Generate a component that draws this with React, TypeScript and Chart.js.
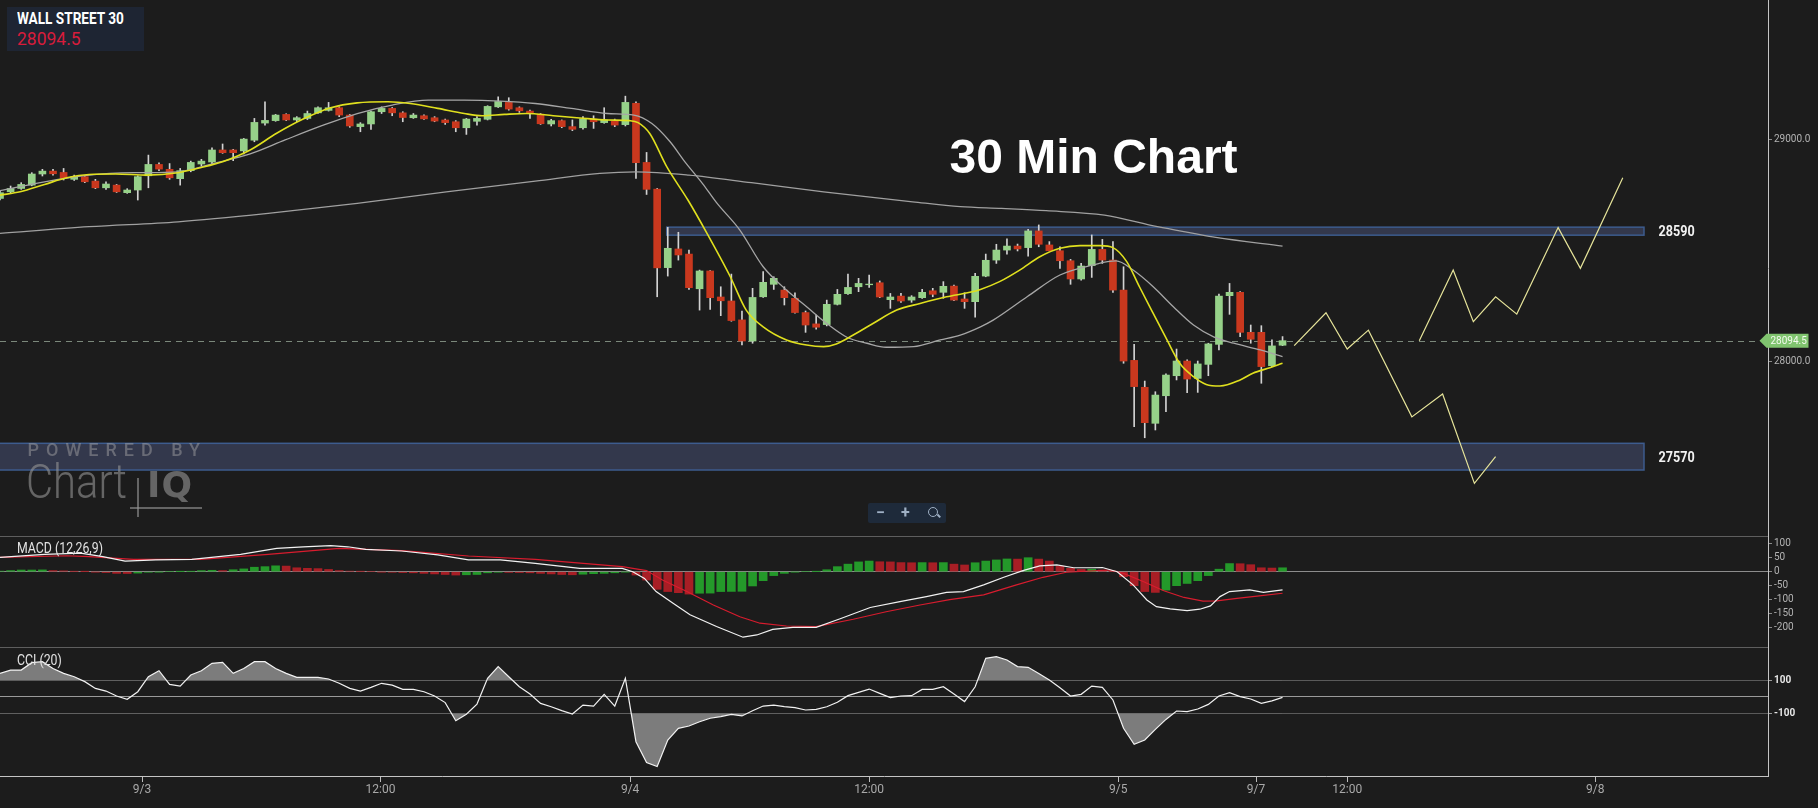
import React, { useEffect, useRef } from 'react';
import { Chart, registerables } from 'chart.js';

Chart.register(...registerables);

// ---------------- DATA ----------------
const opens = [
  28734, 28764, 28779, 28794, 28844, 28857, 28851, 28820, 28832, 28812,
  28782, 28794, 28760, 28772, 28836, 28887, 28865, 28823, 28859, 28889,
  28898, 28952, 28952, 28948, 28996, 29073, 29084, 29112, 29087, 29094,
  29119, 29130, 29142, 29109, 29057, 29069, 29124, 29139, 29119, 29097,
  29106, 29097, 29087, 29079, 29052, 29081, 29090, 29146, 29166, 29142,
  29127, 29113, 29069, 29084, 29057, 29052, 29091, 29075, 29081, 29066,
  29162, 28896, 28776, 28423, 28507, 28484, 28328, 28408, 28291, 28273,
  28188, 28093, 28292, 28348, 28322, 28285, 28221, 28170, 28167, 28258,
  28306, 28337, 28346, 28355, 28279, 28295, 28277, 28288, 28319, 28312,
  28340, 28282, 28270, 28385, 28457, 28502, 28520, 28513, 28588, 28525,
  28499, 28454, 28372, 28432, 28505, 28457, 28322, 28006, 27885, 27723,
  27847, 27937, 28003, 27925, 27988, 28078, 28297, 28312, 28132, 28132,
  27982, 28074,
];
const highs = [
  28769, 28790, 28805, 28850, 28865, 28865, 28869, 28839, 28836, 28820,
  28809, 28797, 28778, 28836, 28929, 28894, 28891, 28869, 28902, 28910,
  28962, 28979, 28955, 29004, 29094, 29169, 29112, 29115, 29102, 29127,
  29146, 29166, 29146, 29112, 29075, 29127, 29146, 29143, 29124, 29116,
  29110, 29102, 29091, 29084, 29094, 29102, 29151, 29191, 29187, 29146,
  29131, 29116, 29090, 29087, 29087, 29102, 29106, 29142, 29091, 29194,
  29169, 28941, 28779, 28604, 28582, 28502, 28412, 28410, 28337, 28394,
  28228, 28330, 28405, 28382, 28337, 28310, 28228, 28210, 28277, 28325,
  28394, 28375, 28390, 28363, 28307, 28307, 28297, 28325, 28330, 28360,
  28345, 28310, 28397, 28484, 28528, 28552, 28529, 28595, 28615, 28540,
  28517, 28460, 28442, 28570, 28550, 28540, 28427, 28078, 27913, 27865,
  27945, 28057, 28008, 28003, 28083, 28304, 28352, 28315, 28165, 28162,
  28098, 28113,
];
const lows = [
  28727, 28757, 28775, 28791, 28835, 28839, 28817, 28815, 28805, 28778,
  28775, 28761, 28757, 28727, 28782, 28859, 28820, 28794, 28854, 28881,
  28891, 28937, 28904, 28934, 28989, 29064, 29081, 29084, 29079, 29089,
  29116, 29127, 29102, 29054, 29034, 29045, 29116, 29106, 29079, 29094,
  29089, 29079, 29067, 29034, 29022, 29064, 29087, 29143, 29131, 29121,
  29094, 29067, 29060, 29052, 29039, 29046, 29049, 29072, 29057, 29060,
  28824, 28752, 28292, 28385, 28457, 28325, 28232, 28235, 28207, 28182,
  28075, 28083, 28289, 28325, 28255, 28218, 28132, 28146, 28161, 28255,
  28303, 28315, 28334, 28288, 28240, 28267, 28267, 28285, 28292, 28285,
  28274, 28240, 28200, 28382, 28442, 28483, 28498, 28475, 28517, 28498,
  28420, 28348, 28367, 28379, 28442, 28312, 27993, 27708, 27658, 27693,
  27775, 27918, 27861, 27862, 27937, 28053, 28213, 28113, 28083, 27903,
  27978, 28072,
];
const closes = [
  28760, 28779, 28797, 28844, 28857, 28845, 28824, 28832, 28809, 28782,
  28799, 28764, 28772, 28832, 28887, 28866, 28827, 28859, 28896, 28902,
  28952, 28940, 28940, 29001, 29076, 29085, 29109, 29087, 29097, 29116,
  29142, 29142, 29109, 29060, 29069, 29124, 29139, 29119, 29098, 29109,
  29092, 29082, 29075, 29052, 29091, 29094, 29148, 29170, 29136, 29128,
  29116, 29070, 29084, 29057, 29045, 29092, 29079, 29087, 29064, 29166,
  28895, 28775, 28422, 28510, 28480, 28333, 28408, 28288, 28274, 28185,
  28093, 28289, 28357, 28375, 28288, 28221, 28165, 28155, 28258, 28303,
  28334, 28352, 28349, 28291, 28291, 28273, 28291, 28312, 28303, 28339,
  28277, 28270, 28384, 28456, 28502, 28520, 28507, 28588, 28528, 28499,
  28454, 28372, 28430, 28505, 28457, 28322, 28003, 27888, 27726, 27850,
  27940, 28003, 27922, 27990, 28080, 28295, 28312, 28132, 28101, 27978,
  28071, 28094.5,
];

// moving averages: [bar index, price]
const fastMA: [number, number][] = [
  [0, 28749], [1.9, 28764], [4.2, 28797], [6.3, 28827], [8.4, 28842], [10.9, 28844],
  [13.9, 28839], [16.8, 28850], [18.9, 28872], [21, 28899], [23.6, 28952], [26.1, 29027],
  [28.6, 29091], [31.2, 29142], [33.7, 29164], [36.6, 29169], [38.7, 29161], [41.3, 29139],
  [43.8, 29116], [45.5, 29106], [47.6, 29112], [49.7, 29116], [52.2, 29106], [54.7, 29096],
  [57.3, 29087], [59.4, 29084], [60.2, 29075], [61.3, 29026], [62.9, 28877], [64.9, 28727],
  [66.7, 28577], [68.9, 28382], [70.4, 28232], [72, 28157], [74.2, 28098], [76.1, 28075],
  [77.7, 28068], [78.9, 28080], [80.5, 28120], [82.4, 28173], [84.6, 28232], [86.8, 28262],
  [89.3, 28292], [91.5, 28312], [92.5, 28325], [94.3, 28360], [96.2, 28412], [98.1, 28472],
  [100, 28510], [101.9, 28522], [103.8, 28522], [105, 28513], [106.3, 28450], [107.5, 28337],
  [108.8, 28217], [110.1, 28098], [111.3, 27993], [112.6, 27933], [113.8, 27898], [115.1, 27891],
  [117, 27918], [118.2, 27948], [119.8, 27973], [121, 27993],
];
const midMA: [number, number][] = [
  [0, 28769], [4.2, 28809], [8.4, 28839], [12.6, 28850], [16.8, 28854], [20.2, 28892],
  [23.6, 28934], [26.9, 28997], [30.3, 29060], [33.7, 29116], [37, 29154], [40.4, 29176],
  [43.8, 29176], [47.2, 29172], [50.5, 29161], [53.9, 29139], [57.3, 29116], [59.8, 29109],
  [61.5, 29071], [63.2, 28990], [64.6, 28900], [66.3, 28800], [67.6, 28715], [69.8, 28592],
  [72, 28427], [74.2, 28322], [76.1, 28247], [78, 28172], [79.9, 28110], [81.8, 28083],
  [83.6, 28065], [86.2, 28068], [88.7, 28098], [90.6, 28120], [92.5, 28157], [93.7, 28187],
  [96.9, 28292], [100, 28390], [103.1, 28435], [105.3, 28453], [106.9, 28412], [108.8, 28337],
  [110.7, 28247], [112.6, 28165], [114.5, 28112], [116.4, 28083], [118.9, 28053], [121, 28023],
];
const slowMA: [number, number][] = [
  [0, 28577], [8.4, 28607], [16.8, 28629], [25.3, 28667], [33.7, 28712], [42.1, 28764],
  [50.5, 28812], [56.6, 28847], [60, 28854], [65, 28839], [70.9, 28805], [77.7, 28764],
  [86.1, 28719], [90.6, 28697], [94.5, 28689], [98.7, 28679], [104.2, 28659], [109.2, 28607],
  [112.6, 28577], [114.7, 28559], [121, 28520],
];

// projected paths drawn on the chart
const projBearish: [number, number][] = [
  [122.1, 28072], [125.1, 28220], [127.1, 28057], [129.1, 28142],
  [133.2, 27752], [136.1, 27855], [139.1, 27453], [141.1, 27573],
];
const projBullish: [number, number][] = [
  [133.9, 28094], [137.1, 28412], [139, 28180], [141.1, 28292],
  [143.1, 28214], [147, 28603], [149.1, 28420], [153.1, 28827],
];

// support / resistance zones
const zoneLabels = ['28590', '27570'];
const zoneTops = [28605, 27633];
const zoneBottoms = [28569, 27513];
const zoneStarts = [62.9, -5];
const zoneEnds = [155.1, 155.1];

const lastPrice = 28094.5;

// MACD (12,26,9)
const macdLine: [number, number][] = [
  [0, 51], [4.2, 62], [7.6, 66], [9.7, 54], [11.8, 38], [14.7, 42], [18.1, 44], [22.7, 62],
  [26.1, 83], [28.6, 89], [31.2, 93], [32.8, 89], [34.5, 80], [37.9, 74], [41.3, 60],
  [44.2, 42], [47.2, 42], [50.5, 30], [54.7, 12], [58.7, 12], [59.7, 0], [60.8, -24],
  [61.9, -71], [63.5, -113], [65.1, -154], [67.6, -196], [70.1, -234], [71.4, -226],
  [72.9, -206], [74.8, -199], [77, -199], [79.2, -169], [82.1, -128], [84.9, -107],
  [87.4, -89], [89.3, -74], [90.9, -71], [92.8, -47], [94.7, -20], [96.5, 4], [98.1, 21],
  [99.7, 24], [101.3, 14], [103.1, 14], [104, 15], [105.4, 0], [106.9, -47], [108.2, -101],
  [109.1, -125], [110.4, -133], [112, -139], [113.2, -134], [114.2, -122], [115.1, -89],
  [116, -71], [117.9, -65], [119.2, -74], [121, -65],
];
const macdSignal: [number, number][] = [
  [0, 51], [6.3, 57], [8.4, 54], [12.6, 44], [18.9, 44], [25.3, 62], [32, 83], [37.9, 75],
  [44.2, 56], [50.5, 44], [58.7, 18], [61, 4], [62.5, -30], [64.8, -71], [67.3, -119],
  [69.8, -161], [71.7, -184], [74.2, -194], [77, -196], [80.5, -170], [83.6, -143],
  [86.8, -119], [89.6, -100], [92.8, -83], [95.9, -47], [98.4, -20], [100.6, -2],
  [102.8, 2.5], [104.7, 6], [106, -6], [107.9, -36], [109.8, -68], [111.7, -92],
  [113.5, -105], [114.8, -104], [116.7, -95], [118.6, -87], [121, -77],
];
const macdHist = [
  2, 4, 6, 6, 6.5, 4, 3, 1, 0.5, -1,
  -3, -6, -6.5, -5, -2, -1, 0, 0.5, 1, 4,
  5, 4, 7, 10, 16, 18, 21, 20, 14, 12,
  11, 8, 4, 2, 1, 0, -1, -2, -3, -4,
  -6, -8, -10, -12, -11, -10, -4, -2, -2.5, -3,
  -4, -6, -8, -10, -11, -9, -7, -6, -4, -1,
  -12, -30, -63, -71, -75, -80, -77, -76.5, -71, -70.5,
  -70, -51, -32, -14, -6, -1, 0, 0.5, 7, 18,
  27, 35, 38, 35.5, 35, 32.5, 32, 32.5, 32, 32.5,
  27, 24, 32, 38, 42, 45.5, 45, 50, 45, 38,
  20, 12, 8, 9, 6, 1, -18, -50, -71, -74,
  -66, -50, -42, -32, -14, 9, 29, 28.5, 25, 14,
  13, 14,
];

// CCI (20)
const cciValues = [
  142, 162, 162, 207, 213, 172, 142, 122, 92, 51,
  35, 5, -15, 31, 122, 158, 75, 65, 132, 158,
  203, 209, 142, 172, 213, 213, 172, 142, 118, 118,
  118, 108, 82, 51, 35, 57, 82, 71, 45, 45,
  31, 5, -35, -145, -106, -44, 112, 183, 122, 61,
  17, -40, -60, -84, -104, -50, -56, 15, -56, 112,
  -272, -399, -423, -262, -191, -177, -151, -130, -120, -106,
  -116, -84, -56, -50, -60, -66, -80, -76, -60, -33,
  7, 27, 47, 21, -5, 5, 7, 45, 45, 61,
  17, -29, 61, 233, 243, 223, 183, 179, 142, 102,
  55, 5, 15, 65, 57, -19, -191, -288, -262, -197,
  -137, -86, -90, -74, -46, 5, 25, 1, -13, -40,
  -25, -3,
];

// axes
const xTickPositions = [13.4, 35.9, 59.45, 82, 105.5, 118.5, 127.1, 150.5];
const xTickLabels = ['9/3', '12:00', '9/4', '12:00', '9/5', '9/7', '12:00', '9/8'];
const priceTicks = [28000, 29000];
const macdTicks = [-200, -150, -100, -50, 0, 50, 100];
const cciTicks = [-100, 0, 100];

// ---------------- LAYOUT / STYLE ----------------
const W = 1818;
const AXIS_W = 50;
const MAIN_H = 536;
const MACD_H = 111;
const CCI_H = 161;
const X_MIN = 0;
const X_MAX = 166.8;
const PRICE_MIN = 27216.3;
const PRICE_MAX = 29626.4;
const MACD_MIN = -269;
const MACD_MAX = 127.5;
const CCI_MIN = -480;
const CCI_MAX = 302;
const BG = '#1c1c1c';
const GREEN = '#96d189';
const RED = '#c9381e';
const AXIS_TEXT = '#b3b3b3';
const FONT = 'Roboto, "Noto Sans", sans-serif';

const toXY = (arr: [number, number][]) => arr.map(([x, y]) => ({ x, y }));

const fixYAxis = (scale: any) => {
  scale.width = AXIS_W;
  scale.paddingTop = 0;
  scale.paddingBottom = 0;
};

const hiddenX = { type: 'linear', min: X_MIN, max: X_MAX, display: false, offset: false };

const baseOptions = {
  animation: false,
  responsive: false,
  devicePixelRatio: 1,
  events: [],
  layout: { padding: 0 },
  elements: { point: { radius: 0 } },
  plugins: { legend: { display: false }, tooltip: { enabled: false } },
};

const mainOverlay = {
  id: 'mainOverlay',
  beforeDatasetsDraw(chart: any) {
    const { ctx, chartArea, scales } = chart;
    const x = scales.x;
    const y = scales.y;
    ctx.save();
    for (let k = 0; k < zoneTops.length; k++) {
      const x0 = x.getPixelForValue(zoneStarts[k]);
      const x1 = x.getPixelForValue(zoneEnds[k]);
      const y0 = y.getPixelForValue(zoneTops[k]);
      const y1 = y.getPixelForValue(zoneBottoms[k]);
      ctx.fillStyle = 'rgba(80, 92, 135, 0.45)';
      ctx.fillRect(x0, y0, x1 - x0, y1 - y0);
      ctx.strokeStyle = '#3d5c8e';
      ctx.lineWidth = 1.5;
      ctx.strokeRect(x0, y0, x1 - x0, y1 - y0);
    }
    const py = Math.round(y.getPixelForValue(lastPrice)) + 0.5;
    ctx.setLineDash([6, 5]);
    ctx.strokeStyle = 'rgba(140, 155, 140, 0.85)';
    ctx.lineWidth = 1;
    ctx.beginPath();
    ctx.moveTo(chartArea.left, py);
    ctx.lineTo(chartArea.right - 8, py);
    ctx.stroke();
    ctx.restore();
  },
  afterDatasetsDraw(chart: any) {
    const { ctx, scales } = chart;
    const x = scales.x;
    const y = scales.y;
    ctx.save();
    ctx.fillStyle = '#f2f2f2';
    ctx.font = 'bold 15px ' + FONT;
    ctx.textBaseline = 'middle';
    for (let k = 0; k < zoneLabels.length; k++) {
      const lx = x.getPixelForValue(zoneEnds[k]) + 14.5;
      const ly = (y.getPixelForValue(zoneTops[k]) + y.getPixelForValue(zoneBottoms[k])) / 2 + 1.2;
      ctx.save();
      ctx.translate(lx, ly);
      ctx.scale(0.84, 1);
      ctx.fillText(zoneLabels[k], 0, 0);
      ctx.restore();
    }
    ctx.restore();
  },
  afterDraw(chart: any) {
    const { ctx, chartArea, scales } = chart;
    const y = scales.y;
    const py = y.getPixelForValue(lastPrice);
    const tip = chartArea.right - 8.5;
    ctx.save();
    ctx.fillStyle = '#80c46f';
    ctx.beginPath();
    ctx.moveTo(tip, py);
    ctx.lineTo(tip + 7, py - 7);
    ctx.lineTo(tip + 49, py - 7);
    ctx.lineTo(tip + 49, py + 7);
    ctx.lineTo(tip + 7, py + 7);
    ctx.closePath();
    ctx.fill();
    ctx.fillStyle = '#f3fbef';
    ctx.font = '10px ' + FONT;
    ctx.textBaseline = 'middle';
    ctx.fillText(lastPrice.toFixed(1), tip + 11, py + 0.5);
    ctx.restore();
  },
};

const separator = {
  id: 'separator',
  afterDraw(chart: any) {
    const { ctx, chartArea } = chart;
    ctx.save();
    ctx.strokeStyle = '#5e5e5e';
    ctx.lineWidth = 1;
    ctx.beginPath();
    ctx.moveTo(0, chartArea.top + 0.5);
    ctx.lineTo(chartArea.right, chartArea.top + 0.5);
    ctx.stroke();
    ctx.restore();
  },
};

export default function App() {
  const mainRef = useRef<HTMLCanvasElement>(null);
  const macdRef = useRef<HTMLCanvasElement>(null);
  const cciRef = useRef<HTMLCanvasElement>(null);

  useEffect(() => {
    document.body.style.margin = '0';
    document.body.style.background = BG;
    const charts: any[] = [];
    const idx = opens.map((_, i) => i);

    // ---- main price chart ----
    charts.push(
      new Chart(mainRef.current as HTMLCanvasElement, {
        type: 'line',
        data: {
          datasets: [
            {
              type: 'line', data: toXY(projBearish), borderColor: '#e6e49a', borderWidth: 1.2,
              tension: 0, order: 0,
            },
            {
              type: 'line', data: toXY(projBullish), borderColor: '#e6e49a', borderWidth: 1.2,
              tension: 0, order: 0,
            },
            {
              type: 'line', data: toXY(fastMA), borderColor: '#e0e01e', borderWidth: 1.6,
              cubicInterpolationMode: 'monotone', order: 1,
            },
            {
              type: 'line', data: toXY(midMA), borderColor: '#a6a6a6', borderWidth: 1.3,
              cubicInterpolationMode: 'monotone', order: 2,
            },
            {
              type: 'line', data: toXY(slowMA), borderColor: '#a0a0a0', borderWidth: 1.3,
              cubicInterpolationMode: 'monotone', order: 2,
            },
            {
              type: 'bar',
              data: idx.map((i) => ({ x: i, y: [opens[i], closes[i]] })),
              backgroundColor: idx.map((i) => (closes[i] >= opens[i] ? GREEN : RED)),
              borderWidth: 0, barThickness: 7, grouped: false, order: 4,
            },
            {
              type: 'bar',
              data: idx.map((i) => ({ x: i, y: [lows[i], highs[i]] })),
              backgroundColor: '#d2d2d2',
              borderWidth: 0, barThickness: 1, grouped: false, order: 5,
            },
          ],
        } as any,
        options: {
          ...baseOptions,
          scales: {
            x: hiddenX,
            y: {
              type: 'linear', position: 'right', min: PRICE_MIN, max: PRICE_MAX,
              afterFit: fixYAxis,
              afterBuildTicks: (s: any) => { s.ticks = priceTicks.map((v) => ({ value: v })); },
              ticks: {
                callback: (v: any) => Number(v).toFixed(1), color: AXIS_TEXT,
                font: { size: 10, family: FONT }, padding: 2, autoSkip: false,
              },
              grid: { drawOnChartArea: false, tickLength: 4, tickColor: '#8a8a8a' },
              border: { display: true, color: '#c4c4c4', width: 1 },
            },
          },
        } as any,
        plugins: [mainOverlay],
      })
    );

    // ---- MACD ----
    charts.push(
      new Chart(macdRef.current as HTMLCanvasElement, {
        type: 'line',
        data: {
          datasets: [
            {
              type: 'line', data: toXY(macdLine), borderColor: '#f2f2f2', borderWidth: 1.2,
              tension: 0, order: 0,
            },
            {
              type: 'line', data: toXY(macdSignal), borderColor: '#d81c2e', borderWidth: 1.2,
              tension: 0, order: 1,
            },
            {
              type: 'bar',
              data: macdHist.map((v, i) => ({ x: i, y: v })),
              backgroundColor: macdHist.map((v, i) =>
                i === 0 || v >= macdHist[i - 1] ? '#24992a' : '#a81e25'
              ),
              borderWidth: 0, barThickness: 8, grouped: false, order: 2,
            },
          ],
        } as any,
        options: {
          ...baseOptions,
          scales: {
            x: hiddenX,
            y: {
              type: 'linear', position: 'right', min: MACD_MIN, max: MACD_MAX,
              afterFit: fixYAxis,
              afterBuildTicks: (s: any) => { s.ticks = macdTicks.map((v) => ({ value: v })); },
              ticks: {
                color: AXIS_TEXT, font: { size: 10, family: FONT }, padding: 2, autoSkip: false,
              },
              grid: {
                color: (c: any) => (c.tick && c.tick.value === 0 ? '#8c8c8c' : 'rgba(0,0,0,0)'),
                tickColor: '#8a8a8a', tickLength: 4, lineWidth: 1,
              },
              border: { display: true, color: '#c4c4c4', width: 1 },
            },
          },
        } as any,
        plugins: [separator],
      })
    );

    // ---- CCI ----
    const cciData = cciValues.map((v, i) => ({ x: i, y: v }));
    charts.push(
      new Chart(cciRef.current as HTMLCanvasElement, {
        type: 'line',
        data: {
          datasets: [
            {
              type: 'line', data: cciData, borderColor: '#f2f2f2', borderWidth: 1.2, tension: 0,
              fill: { target: { value: 100 }, above: '#7c7c7c', below: 'rgba(0,0,0,0)' },
              order: 0,
            },
            {
              type: 'line', data: cciData, borderColor: 'rgba(0,0,0,0)', borderWidth: 0, tension: 0,
              fill: { target: { value: -100 }, above: 'rgba(0,0,0,0)', below: '#7c7c7c' },
              order: 1,
            },
          ],
        } as any,
        options: {
          ...baseOptions,
          scales: {
            x: {
              type: 'linear', position: 'bottom', min: X_MIN, max: X_MAX, offset: false,
              afterFit: (s: any) => { s.height = 32; s.paddingLeft = 0; s.paddingRight = 0; },
              afterBuildTicks: (s: any) => { s.ticks = xTickPositions.map((v) => ({ value: v })); },
              ticks: {
                callback: (_v: any, index: number) => xTickLabels[index],
                color: '#a9a9a9', font: { size: 12, family: FONT }, padding: 1,
                maxRotation: 0, minRotation: 0, autoSkip: false,
              },
              grid: { drawOnChartArea: false, tickLength: 6, tickColor: '#bdbdbd' },
              border: { display: true, color: '#c4c4c4', width: 1 },
            },
            y: {
              type: 'linear', position: 'right', min: CCI_MIN, max: CCI_MAX,
              afterFit: fixYAxis,
              afterBuildTicks: (s: any) => { s.ticks = cciTicks.map((v) => ({ value: v })); },
              ticks: {
                callback: (v: any) => (Number(v) === 0 ? '' : String(v)),
                color: '#e6e6e6', font: { size: 10, family: FONT, weight: 'bold' }, padding: 2,
                autoSkip: false,
              },
              grid: {
                color: (c: any) => (c.tick && c.tick.value === 0 ? '#9a9a9a' : '#5a5a5a'),
                tickColor: (c: any) => (c.tick && c.tick.value === 0 ? 'rgba(0,0,0,0)' : '#9a9a9a'),
                tickLength: 4, lineWidth: 1,
              },
              border: { display: true, color: '#c4c4c4', width: 1 },
            },
          },
        } as any,
        plugins: [separator],
      })
    );

    return () => charts.forEach((c) => c.destroy());
  }, []);

  const abs = (o: any) => ({ position: 'absolute', ...o } as React.CSSProperties);
  const condensed = (sx: number) =>
    ({ transform: `scaleX(${sx})`, transformOrigin: 'left top', whiteSpace: 'nowrap' } as React.CSSProperties);

  return (
    <div style={abs({ left: 0, top: 0, width: W, height: 808, background: BG, overflow: 'hidden', position: 'fixed' })}>
      <canvas ref={mainRef} width={W} height={MAIN_H} style={abs({ left: 0, top: 0, width: W, height: MAIN_H })} />
      <canvas ref={macdRef} width={W} height={MACD_H} style={abs({ left: 0, top: MAIN_H, width: W, height: MACD_H })} />
      <canvas ref={cciRef} width={W} height={CCI_H} style={abs({ left: 0, top: MAIN_H + MACD_H, width: W, height: CCI_H })} />

      {/* instrument box */}
      <div style={abs({ left: 7, top: 7, width: 137, height: 44, background: '#1e2533' })} />
      <div style={abs({ left: 17, top: 9.6, font: `bold 17px/17px ${FONT}`, color: '#ffffff', ...condensed(0.8) })}>
        WALL STREET 30
      </div>
      <div style={abs({ left: 17, top: 31, font: `17.5px/17.5px ${FONT}`, color: '#d81c3b', whiteSpace: 'nowrap' })}>
        28094.5
      </div>

      {/* title */}
      <div style={abs({ left: 949.5, top: 132.7, font: 'bold 48px/48px "Liberation Sans", Arial, sans-serif', color: '#ffffff', whiteSpace: 'nowrap' })}>
        30 Min Chart
      </div>

      {/* watermark */}
      <div style={abs({ left: 27.5, top: 441, font: `500 18px/18px ${FONT}`, letterSpacing: 7, color: 'rgba(170,170,170,0.45)', whiteSpace: 'nowrap' })}>
        POWERED BY
      </div>
      <div style={abs({ left: 26, top: 457.6, font: `300 48px/48px ${FONT}`, color: 'rgba(150,150,150,0.6)', ...condensed(0.87) })}>
        Chart
      </div>
      <div style={abs({ left: 137, top: 478, width: 2, height: 39, background: 'rgba(150,150,150,0.6)' })} />
      <div style={abs({ left: 130, top: 507, width: 72, height: 2, background: 'rgba(150,150,150,0.6)' })} />
      <div style={abs({ left: 147, top: 467, font: 'bold 36px/36px "DejaVu Sans", sans-serif', letterSpacing: 1, color: 'rgba(150,150,150,0.6)', whiteSpace: 'nowrap' })}>
        IQ
      </div>

      {/* zoom controls */}
      <div style={abs({ left: 868, top: 503, width: 78, height: 20, background: '#1e2a3a', borderRadius: 2 })} />
      <div style={abs({ left: 876, top: 503, font: `bold 16px/20px ${FONT}`, color: '#9fb0c4' })}>−</div>
      <div style={abs({ left: 901, top: 503, font: `bold 16px/20px ${FONT}`, color: '#9fb0c4' })}>+</div>
      <div style={abs({ left: 928, top: 507, width: 8, height: 8, border: '1.5px solid #9fb0c4', borderRadius: '50%' })} />
      <div style={abs({ left: 937, top: 515, width: 4, height: 1.5, background: '#9fb0c4', transform: 'rotate(45deg)' })} />

      {/* indicator labels */}
      <div style={abs({ left: 17, top: 541.8, font: `14.5px/14.5px ${FONT}`, color: '#e2e2e2', ...condensed(0.85) })}>
        MACD (12,26,9)
      </div>
      <div style={abs({ left: 17, top: 653.5, font: `14.5px/14.5px ${FONT}`, color: '#e2e2e2', ...condensed(0.85) })}>
        CCI (20)
      </div>
    </div>
  );
}
